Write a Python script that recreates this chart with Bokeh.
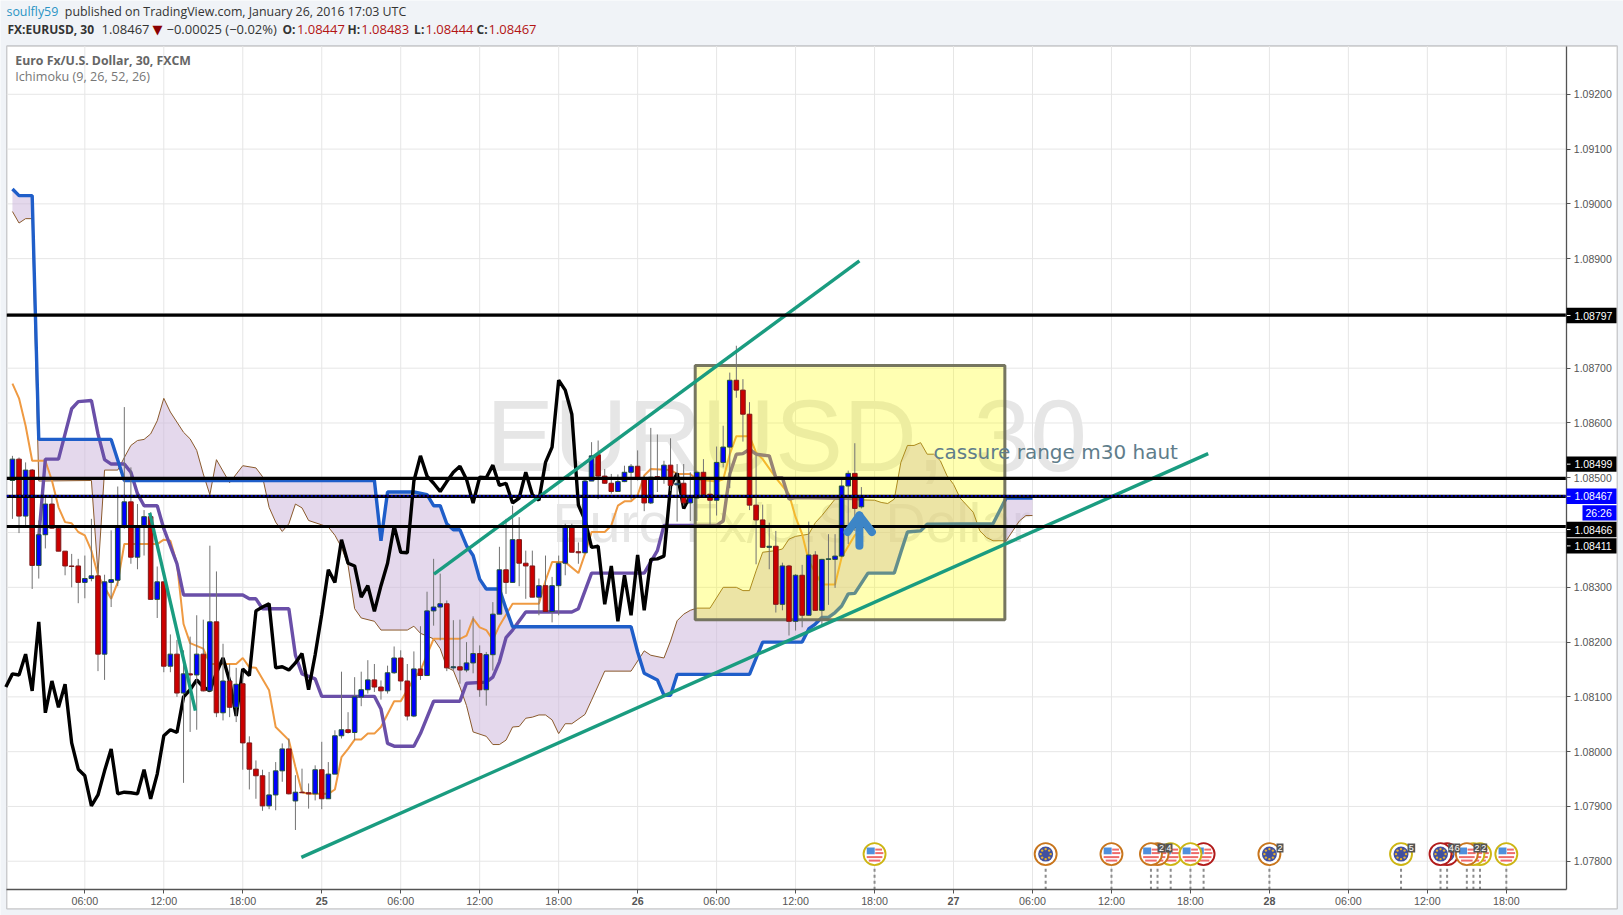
from bokeh.plotting import figure
from bokeh.embed import file_html
from bokeh.resources import INLINE
from bokeh.models import FixedTicker, PrintfTickFormatter, Label, BoxAnnotation, LinearAxis

# ---- candles, price in 1e-5 units
open_ = [108495,108534,108430,108514,108340,108396,108452,108408,108366,108339,108339,108309,108316,108321,108178,108309,108313,108412,108456,108355,108412,108429,108278,108310,108156,108178,108107,108142,108140,108178,108111,108237,108071,108129,108081,108124,108016,107968,107956,107901,107921,107965,108005,107910,107926,107925,107923,107967,107914,107959,108029,108040,108035,108100,108113,108131,108118,108111,108144,108171,108129,108065,108151,108139,108257,108264,108270,108153,108155,108149,108162,108179,108113,108177,108251,108332,108309,108387,108344,108339,108282,108303,108256,108303,108344,108412,108365,108363,108494,108542,108503,108490,108475,108493,108510,108521,108497,108454,108502,108500,108523,108487,108490,108454,108463,108510,108470,108459,108528,108556,108678,108660,108616,108450,108423,108373,108375,108269,108339,108238,108322,108249,108359,108258,108351,108351,108357,108485,108508,108447]
high = [108540,108537,108528,108516,108422,108464,108464,108410,108366,108361,108352,108358,108425,108343,108323,108404,108484,108629,108519,108452,108441,108437,108338,108310,108214,108204,108185,108210,108249,108241,108376,108329,108197,108160,108153,108145,108028,107984,107967,107963,107981,108015,108024,107957,107969,107942,107975,108018,107981,108039,108146,108072,108136,108146,108167,108160,108130,108157,108192,108185,108160,108183,108229,108292,108352,108325,108276,108240,108241,108200,108247,108194,108182,108273,108374,108425,108449,108428,108367,108367,108316,108358,108319,108358,108416,108416,108382,108496,108565,108568,108516,108507,108506,108522,108525,108550,108504,108591,108579,108531,108572,108525,108525,108510,108513,108534,108497,108557,108595,108692,108741,108680,108638,108540,108451,108418,108403,108345,108341,108324,108341,108420,108366,108352,108397,108397,108496,108513,108563,108483]
low = [108425,108399,108413,108297,108316,108371,108407,108366,108322,108300,108271,108280,108311,108147,108131,108264,108302,108407,108343,108333,108358,108278,108244,108145,108145,108100,107943,108036,108040,108110,108110,108063,108057,108063,108054,107967,107931,107914,107892,107895,107893,107945,107922,107857,107925,107896,107911,107895,107914,107959,108024,108033,108021,108083,108106,108109,108095,108106,108142,108112,108057,108063,108131,108138,108230,108203,108147,108148,108124,108145,108143,108100,108084,108148,108251,108288,108309,108302,108279,108282,108249,108255,108236,108249,108322,108364,108343,108363,108494,108461,108489,108471,108474,108492,108460,108495,108439,108452,108474,108489,108476,108420,108449,108421,108421,108467,108409,108431,108519,108481,108646,108566,108441,108342,108373,108333,108254,108258,108212,108221,108227,108248,108257,108230,108268,108299,108355,108379,108403,108444]
close = [108534,108430,108514,108340,108396,108452,108408,108366,108339,108338,108309,108316,108321,108178,108310,108314,108412,108456,108355,108412,108429,108278,108310,108156,108178,108107,108142,108140,108178,108111,108237,108071,108129,108081,108123,108016,107968,107956,107901,107921,107965,108005,107923,107926,107925,107923,107967,107914,107959,108029,108040,108035,108100,108113,108131,108118,108111,108144,108171,108129,108065,108151,108139,108257,108264,108270,108153,108155,108149,108162,108179,108113,108177,108251,108332,108309,108387,108344,108339,108282,108303,108256,108303,108344,108412,108364,108363,108494,108540,108503,108490,108475,108493,108510,108521,108497,108454,108501,108500,108523,108486,108490,108454,108463,108510,108469,108459,108528,108556,108678,108660,108616,108450,108423,108373,108375,108269,108339,108238,108322,108249,108359,108258,108351,108352,108357,108485,108508,108444,108467]

# ---- ichimoku lines: bar index, price in 1e-5 units
kijun_bar = [0,1,3,4,15,17,55,56,57,61,63,64,65,66,67,68,69,70,71,72,74,75,76,94,95,96,98,99,100,101,112,114,120,121,122,123,124,125,126,127,128,130,134,135,136,138,139,149,151,155]
kijun_val = [109027,109015,109015,108570,108570,108495,108495,108385,108474,108474,108469,108449,108449,108416,108405,108405,108376,108358,108315,108297,108297,108261,108228,108228,108182,108143,108131,108103,108103,108141,108141,108200,108200,108224,108233,108245,108245,108254,108266,108288,108289,108326,108326,108364,108401,108403,108415,108416,108463,108463]
span_bar = [0,1,2,3,4,12,13,14,16,17,18,19,20,21,22,23,24,26,27,28,29,30,31,33,35,37,38,39,40,41,42,43,44,45,48,49,50,51,52,53,55,56,60,61,62,64,65,66,67,68,69,70,72,73,74,75,76,77,78,79,80,81,82,83,84,85,87,88,90,94,96,97,99,100,101,102,103,104,106,108,110,111,112,113,114,116,117,118,119,121,122,123,125,131,132,133,134,135,136,137,138,139,140,141,142,143,144,146,147,148,149,151,152,153,154,155]
span_val = [108986,108965,108973,108973,108494,108495,108325,108514,108514,108537,108559,108568,108570,108580,108604,108645,108620,108583,108571,108550,108507,108469,108533,108491,108522,108518,108502,108446,108419,108402,108416,108452,108445,108422,108410,108395,108373,108340,108261,108244,108238,108222,108222,108229,108216,108206,108188,108154,108148,108118,108084,108036,108028,108013,108013,108021,108045,108046,108061,108063,108067,108067,108058,108033,108051,108051,108068,108094,108147,108147,108184,108176,108171,108202,108239,108251,108258,108262,108262,108300,108300,108294,108294,108330,108364,108367,108370,108388,108393,108397,108418,108431,108461,108459,108455,108453,108461,108528,108559,108559,108564,108543,108543,108531,108504,108488,108463,108437,108403,108391,108385,108385,108403,108421,108431,108431]
purple_bar = [4,5,7,8,9,10,12,13,14,15,17,18,19,20,22,23,25,26,35,36,37,38,42,43,44,46,47,55,56,57,58,61,62,64,68,69,72,73,74,75,76,78,85,86,88,96,98,99,107,108,109,110,111,112,113,115,116,117,118,119,129]
purple_val = [108391,108534,108534,108580,108626,108639,108641,108580,108533,108525,108525,108510,108471,108449,108449,108407,108343,108286,108286,108279,108279,108261,108261,108176,108142,108133,108101,108101,108078,108015,108010,108010,108033,108092,108092,108125,108127,108136,108164,108208,108222,108255,108255,108261,108326,108326,108367,108413,108413,108421,108507,108543,108544,108552,108543,108540,108500,108500,108461,108464,108462]
orange_bar = [0,1,2,3,5,6,7,8,9,10,11,12,13,14,15,16,17,22,23,24,25,26,27,29,30,34,35,36,37,39,40,42,43,44,45,48,49,50,51,52,53,54,55,56,58,59,61,62,64,68,69,70,71,72,73,74,76,80,81,82,84,86,87,88,90,91,92,93,94,95,96,97,100,101,103,104,107,108,109,110,112,113,114,116,118,119,120,121,122,123,125,126,127,128,129]
orange_val = [108672,108645,108595,108531,108531,108495,108446,108419,108417,108401,108395,108367,108322,108300,108279,108309,108379,108379,108387,108385,108343,108233,108198,108188,108160,108160,108171,108154,108153,108112,108045,108021,107972,107926,107923,107923,107931,107990,108005,108022,108022,108033,108033,108045,108092,108092,108133,108148,108206,108206,108212,108243,108227,108222,108204,108230,108270,108270,108312,108346,108346,108326,108361,108401,108401,108413,108449,108457,108457,108468,108504,108516,108514,108507,108507,108497,108493,108497,108543,108576,108576,108546,108534,108500,108470,108428,108397,108348,108327,108305,108305,108355,108375,108395,108405]
chikou_first = 108118

# ---- drawings
trend_long = ([43.9,181.7],[107807,108544])
trend_mid = ([64.05,128.7],[108324,108896])
trend_short = ([20.86,27.8],[108436,108075])
hline_prices = [1.08797,1.08499,1.08466,1.08411]
last_price = 1.08467
box_bars = (103.75,150.8)
box_prices = (1.08241,1.08705)

# ---- axes
price_ticks = [1.078,1.079,1.080,1.081,1.082,1.083,1.084,1.085,1.086,1.087,1.088,1.089,1.090,1.091,1.092]
time_bars = [11,23,35,47,59,71,83,95,107,119,131,143,155,167,179,191,203,215,227]
time_labels = ["06:00","12:00","18:00","25","06:00","12:00","18:00","26","06:00","12:00","18:00","27","06:00","12:00","18:00","28","06:00","12:00","18:00"]

# ---- economic events, back to front: bar, flag, ring
events = [(131,"US","y"),(157,"EU","o"),(167,"US","o"),(181,"US","r"),(176,"US","y"),(174,"US","o"),(173,"US","o"),(179,"US","y"),(191,"EU","o"),(211,"EU","y"),(218,"EU","r"),(217,"EU","r"),(223,"US","y"),(222,"US","y"),(221,"US","o"),(227,"US","y")]
ring = {"y":"#cdb513","o":"#c8751c","r":"#b11a1a"}
event_price = 1.07813

# the plot frame covers the whole page; the chart pane is the part of it from LEFT to RIGHT and TOP to BOTTOM
W, H = 1623, 915
LEFT, RIGHT, TOP, BOTTOM = 6.3, 1566.3, 45.5, 889.3
PX_BAR, PX_PRICE = 6.581, 54780.0
bar_at = lambda px: 11 + (px - 84.33) / PX_BAR
price_at = lambda py: 1.092 - (py - 93.8) / PX_PRICE
x0, x1 = bar_at(LEFT), bar_at(RIGHT)
y0, y1 = price_at(BOTTOM), price_at(TOP)
P = lambda v: [a / 1e5 for a in v]

p = figure(width=W, height=H, output_backend="svg", toolbar_location=None,
           x_range=(bar_at(0), bar_at(W)), y_range=(price_at(H), price_at(0)),
           x_axis_location=None, y_axis_location=None, min_border=0, frame_width=W, frame_height=H,
           border_fill_color="#f0f3f7", background_fill_color="#f0f3f7", outline_line_color=None)
p.xgrid.visible = False
p.ygrid.visible = False

ax = LinearAxis(fixed_location=y0, bounds=(x0, x1), ticker=FixedTicker(ticks=time_bars),
                major_label_overrides={b: (" " if l.isdigit() else l) for b, l in zip(time_bars, time_labels)})
ay = LinearAxis(fixed_location=x1, bounds=(y0, y1), ticker=FixedTicker(ticks=price_ticks),
                formatter=PrintfTickFormatter(format="%.5f"))
for a, fs, so in ((ax, "10.7px", 1), (ay, "10.5px", 3)):
    a.axis_line_color = "#535353"; a.axis_line_width = 1.3
    a.major_tick_line_color = "#535353"; a.major_tick_in = 0; a.major_tick_out = 4
    a.minor_tick_line_color = None
    a.major_label_text_font = "Liberation Sans"; a.major_label_text_font_size = fs
    a.major_label_text_color = "#555555"; a.major_label_standoff = so
p.add_layout(ax, "below")
p.add_layout(ay, "right")

def box(l, t, r, b, fill, line=None, lw=1, level="annotation"):
    p.add_layout(BoxAnnotation(left=l, right=r, top=H - t, bottom=H - b,
                               left_units="screen", right_units="screen", top_units="screen", bottom_units="screen",
                               fill_color=fill, fill_alpha=1, line_color=line, line_width=lw, level=level))

def lab(x, y, text, color="#333333", size="12px", font="Open Sans", bold=False, align="left", level="annotation"):
    p.add_layout(Label(x=x, y=H - y, x_units="screen", y_units="screen", text=text, text_color=color,
                       text_font=font, text_font_size=size, text_font_style="bold" if bold else "normal",
                       text_align=align, text_baseline="middle", level=level))

# white panel with border
box(6.3, TOP, 1616.7, 908.3, "white", "#535353", lw=1.3, level="image")

# grid of the pane
p.segment(time_bars, [y0] * len(time_bars), time_bars, [y1] * len(time_bars), line_color="#e6e6e6", line_width=1, level="underlay")
p.segment([x0] * len(price_ticks), price_ticks, [x1] * len(price_ticks), price_ticks, line_color="#e6e6e6", line_width=1, level="underlay")

# watermark
lab(786, 435, "EURUSD, 30", "#e6e6e6", "102px", "Liberation Sans", align="center", level="underlay")
lab(791, 522, "Euro Fx/U.S. Dollar", "#e6e6e6", "55.5px", "Liberation Sans", align="center", level="underlay")

# cloud and ichimoku lines
cx = kijun_bar + span_bar[::-1]
cy = P(kijun_val) + P(span_val)[::-1]
p.patch(cx, cy, fill_color="#c9b1d9", fill_alpha=0.5, line_color=None)
p.line(span_bar, P(span_val), line_color="#8a5a2c", line_width=1)
p.line(orange_bar, P(orange_val), line_color="#ef9a42", line_width=2)
p.line(purple_bar, P(purple_val), line_color="#6a4fa8", line_width=3.4)
p.line(kijun_bar, P(kijun_val), line_color="#1f5ec9", line_width=3.4)
chik = [chikou_first] + close[26:]
p.line(list(range(-1, len(chik) - 1)), P(chik), line_color="black", line_width=3.4)

# highlighted box
p.quad(left=[box_bars[0]], right=[box_bars[1]], bottom=[box_prices[0]], top=[box_prices[1]],
       fill_color="#ffff00", fill_alpha=0.3, line_color="#6f6f5a", line_width=3, line_alpha=0.95)

# candles
bars = list(range(len(close)))
p.segment(bars, P(high), bars, P(low), line_color="#737373", line_width=1)
for sel, fill, edge in (([i for i in bars if close[i] >= open_[i]], "#0000ff", "#225437"),
                        ([i for i in bars if close[i] < open_[i]], "#cc0000", "#7d1a1a")):
    p.vbar(x=sel, width=0.7, top=[max(open_[i], close[i]) / 1e5 for i in sel],
           bottom=[min(open_[i], close[i]) / 1e5 for i in sel], fill_color=fill, line_color=edge, line_width=1)

# trend lines
for xs, ys in (trend_long, trend_mid, trend_short):
    p.line(xs, P(ys), line_color="#1a9c80", line_width=3.4)

# horizontal levels
for h in hline_prices:
    p.segment([x0], [h], [x1 - 0.15], [h], line_color="black", line_width=3.2)
p.segment([x0], [last_price], [x1 - 0.15], [last_price], line_color="#0000ff", line_width=1.2, line_dash="2 2")

# arrow
p.multi_line([[128.7, 128.7], [126.9, 128.7, 130.6]], [[1.08376, 1.08431], [1.08401, 1.08431, 1.08401]],
             line_color="#3d85c6", line_width=8, line_cap="round", line_join="round")

lab(933, 451, "cassure range m30 haut", "#607d8b", "20px", "DejaVu Sans")

# events
for bar, kind, rc in events:
    p.segment([bar], [y0], [bar], [event_price - 12.5 / PX_PRICE], line_color="#8c8c8c", line_width=2, line_dash="3 3")
for bar, kind, rc in events:
    p.scatter([bar], [event_price], size=22, marker="circle", fill_color="white", line_color=ring[rc], line_width=1.9)
    if kind == "EU":
        p.scatter([bar], [event_price], size=15, marker="circle", fill_color="#41509f", line_color=None)
        dots = [(0, 5), (3.5, 3.5), (5, 0), (3.5, -3.5), (0, -5), (-3.5, -3.5), (-5, 0), (-3.5, 3.5)]
        p.scatter([bar + d[0] / PX_BAR for d in dots], [event_price + d[1] / PX_PRICE for d in dots],
                  size=2.4, marker="circle", fill_color="#e6b130", line_color=None)
    else:
        rows = [(4.5, 0.7, 7.5), (1, 0.7, 8.8), (-3, -7.8, 7.8), (-6.5, -5.8, 5.8)]
        for dy, a, b in rows:
            p.rect([bar + (a + b) / 2 / PX_BAR], [event_price + dy / PX_PRICE], width=b - a, height=2,
                   width_units="screen", height_units="screen", fill_color="#ee6b6b", line_color=None)
        p.rect([bar - 3.8 / PX_BAR], [event_price + 3.2 / PX_PRICE], width=8, height=6.8,
               width_units="screen", height_units="screen", fill_color="#4f8fdc", line_color=None)

# event badges
for l, r, d in ((1157, 1165, "2"), (1165, 1172, "4"), (1276, 1283, "2"), (1407, 1414.7, "5"),
                (1447.7, 1453.7, "4"), (1453.7, 1459.7, "6"), (1473, 1480, "2"), (1480, 1486.7, "2")):
    box(l, 843, r, 852, "#555555")
    lab((l + r) / 2, 847.5, d, "white", "9px", "Liberation Sans", align="center")

# day labels on the time axis
for b, l in zip(time_bars, time_labels):
    if l.isdigit():
        lab(84.33 + (b - 11) * PX_BAR, 900, l, "#555555", "10.7px", "Liberation Sans", bold=True, align="center")

# price tags
for top_, bot, col, txt in ((307.3, 322.7, "black", "1.08797"), (456, 471.3, "black", "1.08499"),
                            (521.3, 536.8, "black", "1.08466"), (537.8, 553, "black", "1.08411"),
                            (488, 503.6, "#0000ff", "1.08467")):
    box(1566, top_, 1616, bot, col)
    box(1566.5, (top_ + bot) / 2 - 0.5, 1570, (top_ + bot) / 2 + 0.5, "white")
    lab(1574, (top_ + bot) / 2, txt, "white", "10.5px", "Liberation Sans")
box(1582, 504.7, 1616, 520, "#0000ff")
lab(1585, 512.5, "26:26", "white", "10.5px", "Liberation Sans")

# header
lab(6, 10.7, "soulfly59", "#2a93c4", size="12.4px")
lab(64.3, 10.7, "published on TradingView.com, January 26, 2016 17:03 UTC", "#333333", size="12.4px")
lab(7, 28.5, "FX:EURUSD, 30", "#333333", bold=True)
lab(101, 28.5, "1.08467", "#333333", size="13px")
lab(152, 28.5, "\u25bc", "#8b0000", "13px", "DejaVu Sans")
lab(166, 28.5, "\u22120.00025 (\u22120.02%)", "#333333", size="13px")
for xa, a, xb, b in ((282, "O:", 296.4, "1.08447"), (347, "H:", 360.7, "1.08483"), (413.6, "L:", 425, "1.08444"), (476, "C:", 488, "1.08467")):
    lab(xa, 28.5, a, "#333333", bold=True)
    lab(xb, 28.5, b, "#b31414", size="13px")

# pane legend
lab(14.8, 59.5, "Euro Fx/U.S. Dollar, 30, FXCM", "#666666", size="12.3px", bold=True)
lab(14.8, 76, "Ichimoku (9, 26, 52, 26)", "#777777", size="12.6px")

open("out.html", "w").write(file_html(p, INLINE))
